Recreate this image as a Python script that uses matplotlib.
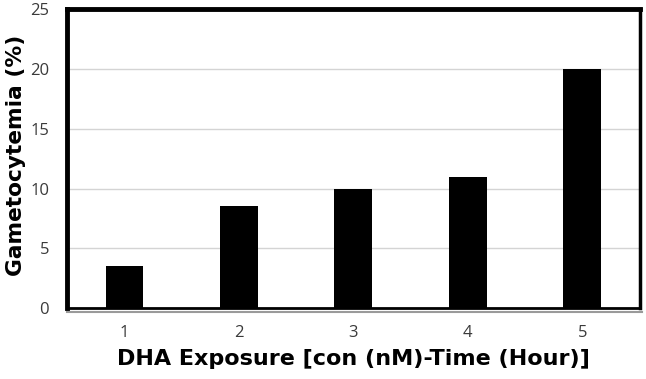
import matplotlib
matplotlib.use("Agg")
import matplotlib.pyplot as plt
from matplotlib.lines import Line2D

categories = ["1", "2", "3", "4", "5"]
values = [3.5, 8.5, 10, 11, 20]
yticks = [0, 5, 10, 15, 20, 25]

fig = plt.figure(figsize=(6.46, 3.79), dpi=100)
ax = fig.add_axes([0.104, 0.187, 0.886, 0.789])

x = list(range(1, len(categories) + 1))
ax.bar(x, values, width=0.33, color="black", zorder=3)
ax.set_xlim(0.5, 5.5)
ax.set_ylim(0, 25)
ax.set_yticks(yticks)
ax.set_xticks(x)
ax.set_xticklabels(categories)
ax.yaxis.grid(True, color="#d4d4d4", linewidth=1.0, zorder=0)
ax.set_axisbelow(True)
ax.tick_params(length=0, labelsize=12, colors="#3a3a3a")
ax.tick_params(axis="y", pad=13)
ax.tick_params(axis="x", pad=12)
for lab in ax.get_xticklabels() + ax.get_yticklabels():
    lab.set_family("Open Sans")

ax.spines["left"].set_linewidth(3.5)
ax.spines["top"].set_linewidth(3.5)
ax.spines["right"].set_linewidth(2.5)
ax.spines["bottom"].set_linewidth(2.0)
for s in ax.spines.values():
    s.set_color("black")

ax.add_line(Line2D([0, 1.004], [-0.012, -0.012], transform=ax.transAxes,
                   color="#9a9a9a", linewidth=1.5, clip_on=False))

ax.set_ylabel("Gametocytemia (%)", fontsize=15.7, fontweight="bold",
              family="DejaVu Sans")
ax.yaxis.set_label_coords(-0.072, 0.51)
ax.set_xlabel("DHA Exposure [con (nM)-Time (Hour)]", fontsize=16,
              fontweight="bold", family="DejaVu Sans", labelpad=6)

fig.savefig("out.png", dpi=100)
